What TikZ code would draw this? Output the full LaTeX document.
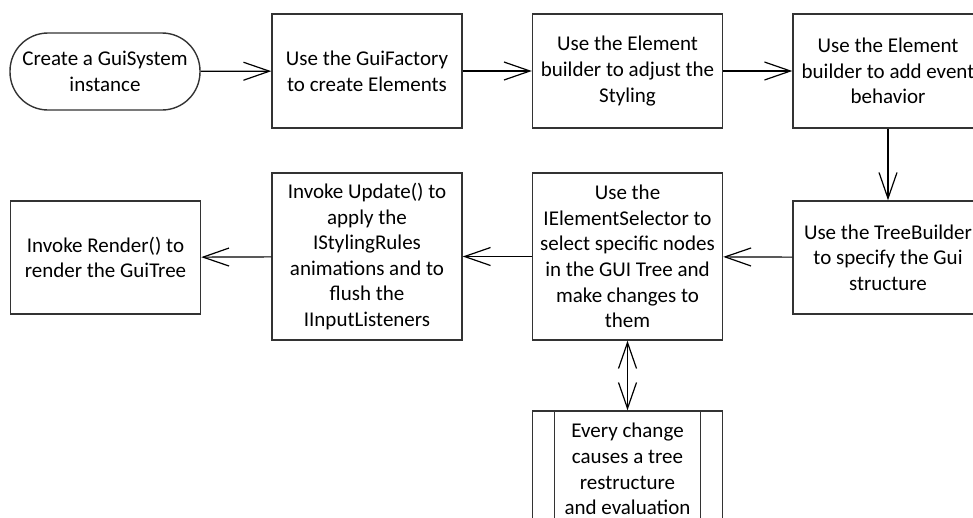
\documentclass[tikz,border=0pt]{standalone}
\usepackage{fontspec}
\setmainfont{Carlito}
\usetikzlibrary{arrows.meta}
\tikzset{
  stepbox/.style={draw=black!80, line width=1.4pt, minimum width=190pt,
    align=center, inner sep=2pt, font=\fontsize{21}{25.6}\selectfont},
  startbox/.style={stepbox, rounded corners=38pt, minimum height=77pt},
  flow/.style={line width=1.2pt, -{Straight Barb[length=26pt,width=18pt]}},
  flowboth/.style={line width=1.2pt,
    {Straight Barb[length=26pt,width=18pt]}-{Straight Barb[length=26pt,width=18pt]}}
}

\begin{document}
\begin{tikzpicture}[x=1pt,y=-1pt]
        \useasboundingbox (0,0) rectangle (973,517);
        \clip (0,0) rectangle (973,517);

        % row 1
        \node[startbox] (create) at (105,71.5) {Create a GuiSystem\\instance};
        \node[stepbox, minimum height=114pt] (factory) at (367,71) {Use the GuiFactory\\to create Elements};
        \node[stepbox, minimum height=114pt] (styling) at (627.5,71) {Use the Element\\builder to adjust the\\Styling};
        \node[stepbox, minimum height=114pt] (events) at (888,71) {Use the Element\\builder to add event\\behavior};

        % row 2
        \node[stepbox, minimum height=113pt] (tree) at (888,257.5) {Use the TreeBuilder\\to specify the Gui\\structure};
        \node[stepbox, minimum height=167pt] (selector) at (627.5,256.5) {Use the\\IElementSelector to\\select specific nodes\\in the GUI Tree and\\make changes to\\them};
        \node[stepbox, minimum height=167pt] (update) at (367,256.5) {Invoke Update() to\\apply the\\IStylingRules\\animations and to\\flush the\\IInputListeners};
        \node[stepbox, minimum height=113pt] (render) at (105.5,257.5) {Invoke Render() to\\render the GuiTree};

        % subprocess
        \node[stepbox, minimum height=116pt] (change) at (627.5,469) {Every change\\causes a tree\\restructure\\and evaluation};
        \draw[draw=black!80, line width=1.2pt] ([xshift=23pt]change.north west) -- ([xshift=23pt]change.south west);
        \draw[draw=black!80, line width=1.2pt] ([xshift=-23pt]change.north east) -- ([xshift=-23pt]change.south east);

        % connectors
        \draw[flow] (create) -- (factory);
        \draw[flow] (factory) -- (styling);
        \draw[flow] (styling) -- (events);
        \draw[flow] (events) -- (tree);
        \draw[flow] (tree) -- (selector);
        \draw[flow] (selector) -- (update);
        \draw[flow] (update) -- (render);
        \draw[flowboth] (selector) -- (change);
    \end{tikzpicture}
\end{document}
